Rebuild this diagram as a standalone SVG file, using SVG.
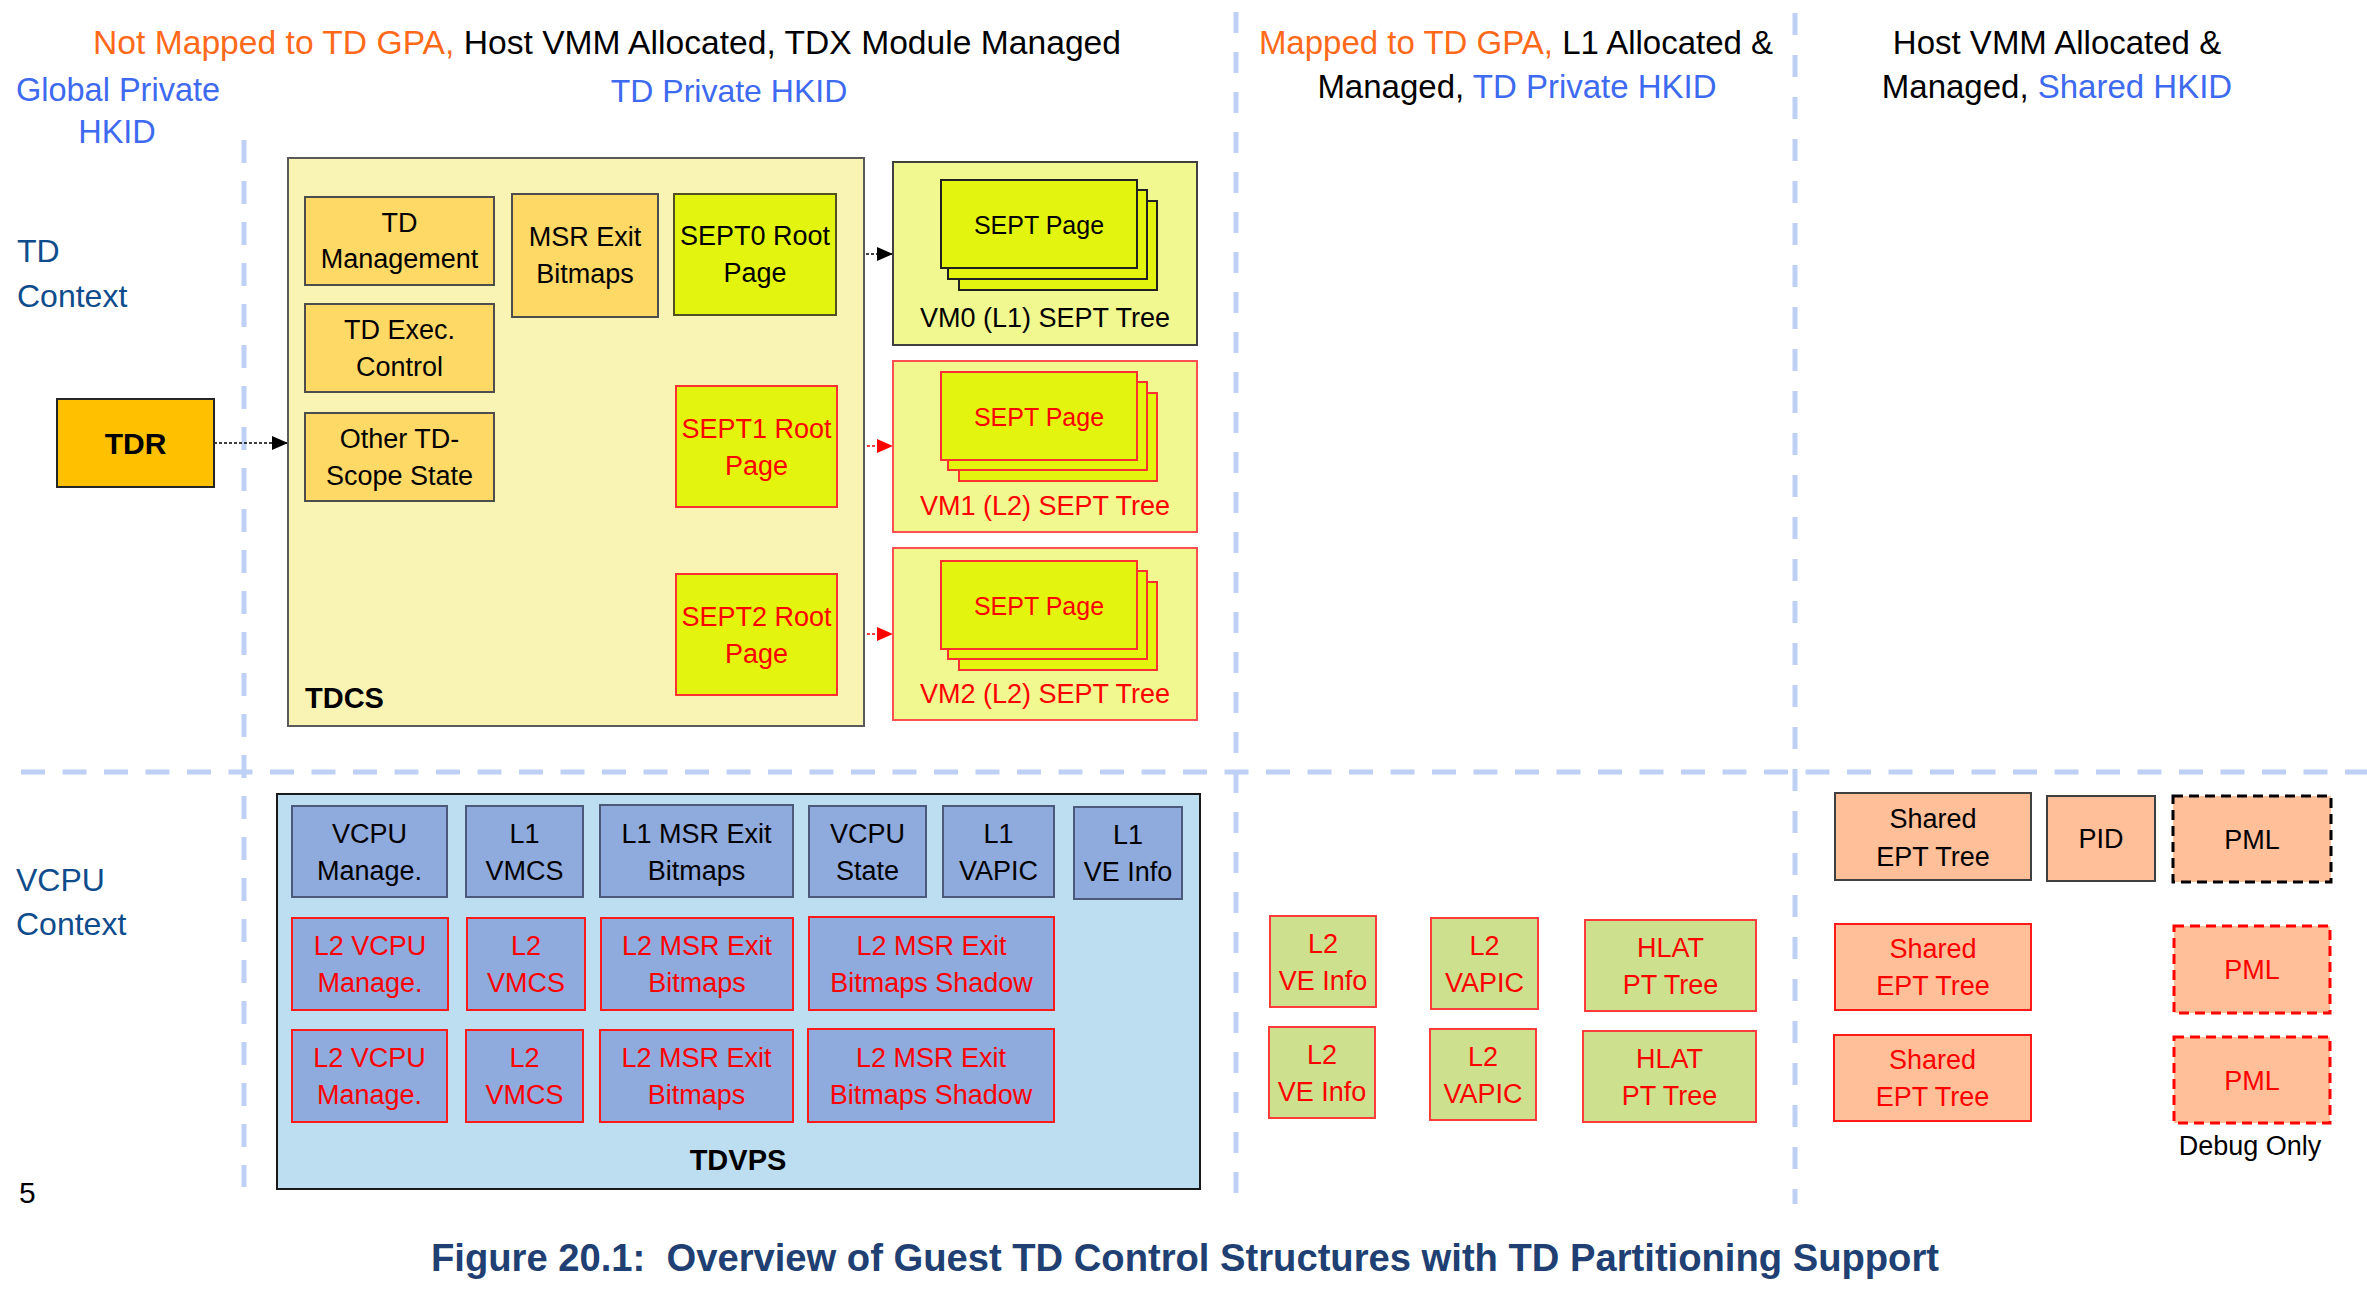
<svg xmlns="http://www.w3.org/2000/svg" width="2367" height="1302" viewBox="0 0 2367 1302">
<defs>
<style>
text{font-family:"Liberation Sans",Arial,sans-serif;}
.hd{font-size:33px;fill:#000;text-anchor:middle}
.or{fill:#FF6A1A}
.bl{fill:#3D6AF0}
.ctx{font-size:32px;fill:#0E4C8C}
.lb{font-size:27px;fill:#000;text-anchor:middle}
.r{fill:#FF0000}
.bold{font-weight:bold;font-size:30px;fill:#000;text-anchor:middle}
.guide{stroke:#BFD0F7;stroke-width:5;fill:none}
.conn{stroke-width:1.6;stroke-dasharray:3 2;fill:none}
.y1{fill:#FFD966;stroke:#4D4D4D;stroke-width:2}
.lime{fill:#E3F50F;stroke:#505020;stroke-width:2}
.limer{fill:#E3F50F;stroke:#FF3030;stroke-width:2}
.tree{fill:#F1F88F;stroke:#404040;stroke-width:2}
.treer{fill:#F1F88F;stroke:#FF5050;stroke-width:2}
.blu{fill:#8FAADC;stroke:#4A5A78;stroke-width:2}
.blur{fill:#8FAADC;stroke:#FF1A1A;stroke-width:2}
.grn{fill:#CCE08E;stroke:#FF3B3B;stroke-width:2}
.pch{fill:#FFBF99;stroke:#404040;stroke-width:2}
.pchr{fill:#FFBF99;stroke:#FF1A1A;stroke-width:2}
.pmlk{fill:#FFBF99;stroke:#000;stroke-width:3;stroke-dasharray:10 6}
.pmlr{fill:#FFBF99;stroke:#FF0000;stroke-width:3;stroke-dasharray:10 6}
</style>
<marker id="ak" markerUnits="userSpaceOnUse" markerWidth="16" markerHeight="14" refX="16" refY="7" orient="auto"><path d="M0,0 L16,7 L0,14 z" fill="#000"/></marker>
<marker id="ar" markerUnits="userSpaceOnUse" markerWidth="16" markerHeight="14" refX="16" refY="7" orient="auto"><path d="M0,0 L16,7 L0,14 z" fill="#FF0000"/></marker>
</defs>
<rect width="2367" height="1302" fill="#fff"/>

<g id="guides">
<line class="guide" x1="21" y1="772" x2="2367" y2="772" stroke-dasharray="24 17.5"/>
<line class="guide" x1="244" y1="140" x2="244" y2="1187" stroke-dasharray="23 18"/>
<line class="guide" x1="1236" y1="12" x2="1236" y2="1204" stroke-dasharray="21 19"/>
<line class="guide" x1="1795" y1="13" x2="1795" y2="1204" stroke-dasharray="22 20"/>
</g>

<g id="headers">
<text x="93" y="54" textLength="1028" lengthAdjust="spacingAndGlyphs" style="font-size:33px;fill:#000"><tspan class="or">Not Mapped to TD GPA,</tspan> Host VMM Allocated, TDX Module Managed</text>
<text class="hd" x="1516" y="54"><tspan class="or">Mapped to TD GPA,</tspan> L1 Allocated &amp;</text>
<text class="hd" x="1517" y="98">Managed, <tspan class="bl">TD Private HKID</tspan></text>
<text class="hd" x="2057" y="54">Host VMM Allocated &amp;</text>
<text class="hd" x="2057" y="98">Managed, <tspan class="bl">Shared HKID</tspan></text>
<text class="hd bl" x="118" y="101" style="font-size:32.5px">Global Private</text>
<text class="hd bl" x="117" y="143" style="font-size:32.5px">HKID</text>
<text class="hd bl" x="729" y="102" style="font-size:32px">TD Private HKID</text>
<text class="ctx" x="17" y="262">TD</text>
<text class="ctx" x="17" y="307">Context</text>
<text class="ctx" x="16" y="891">VCPU</text>
<text class="ctx" x="16" y="935">Context</text>
<text x="19" y="1203" style="font-size:30px;fill:#000">5</text>
<text x="431" y="1271" textLength="1508" lengthAdjust="spacingAndGlyphs" style="font-size:38px;font-weight:bold;fill:#203F72;white-space:pre">Figure 20.1:  Overview of Guest TD Control Structures with TD Partitioning Support</text>
</g>

<g id="connectors">
<path class="conn" d="M214,443 H288" stroke="#000" marker-end="url(#ak)"/>
<path class="conn" d="M836,254 H893" stroke="#000" marker-end="url(#ak)"/>
<path class="conn" d="M837,446 H893" stroke="#FF0000" marker-end="url(#ar)"/>
<path class="conn" d="M837,634 H893" stroke="#FF0000" marker-end="url(#ar)"/>
</g>

<g id="tdr"><rect x="57" y="399" width="157" height="88" fill="#FFC000" stroke="#262626" stroke-width="2"/><text class="bold" x="135.5" y="454">TDR</text></g>

<g id="tdcs"><rect x="288" y="158" width="576" height="568" fill="#FAF4B4" stroke="#5A5A5A" stroke-width="2"/><text x="305" y="708" style="font-weight:bold;font-size:29px;fill:#000">TDCS</text></g>

<g id="td-management"><rect class="y1" x="305" y="197" width="189" height="88"/><text class="lb" x="399.5" y="232"><tspan x="399.5">TD</tspan><tspan x="399.5" y="268">Management</tspan></text></g>
<g id="td-exec-control"><rect class="y1" x="305" y="304" width="189" height="88"/><text class="lb" x="399.5" y="339"><tspan x="399.5">TD Exec.</tspan><tspan x="399.5" y="376">Control</tspan></text></g>
<g id="other-td-scope-state"><rect class="y1" x="305" y="413" width="189" height="88"/><text class="lb" x="399.5" y="448"><tspan x="399.5">Other TD-</tspan><tspan x="399.5" y="485">Scope State</tspan></text></g>
<g id="msr-exit-bitmaps"><rect class="y1" x="512" y="194" width="146" height="123"/><text class="lb" x="585" y="246"><tspan x="585">MSR Exit</tspan><tspan x="585" y="283">Bitmaps</tspan></text></g>

<g id="sept0-root"><rect class="lime" x="674" y="194" width="162" height="121"/><text class="lb" x="755" y="245"><tspan x="755">SEPT0 Root</tspan><tspan x="755" y="282">Page</tspan></text></g>
<g id="sept1-root"><rect class="limer" x="676" y="386" width="161" height="121"/><text class="lb r" x="756.5" y="438"><tspan x="756.5">SEPT1 Root</tspan><tspan x="756.5" y="475">Page</tspan></text></g>
<g id="sept2-root"><rect class="limer" x="676" y="574" width="161" height="121"/><text class="lb r" x="756.5" y="626"><tspan x="756.5">SEPT2 Root</tspan><tspan x="756.5" y="663">Page</tspan></text></g>

<g id="vm0-sept-tree">
<rect class="tree" x="893" y="162" width="304" height="183"/>
<rect class="lime" x="959" y="201" width="198" height="89" style="stroke:#202020"/>
<rect class="lime" x="948" y="190" width="199" height="89" style="stroke:#202020"/>
<rect class="lime" x="941" y="180" width="196" height="88" style="stroke:#202020"/>
<text class="lb" x="1039" y="234" style="font-size:25px">SEPT Page</text>
<text class="lb" x="1045" y="327">VM0 (L1) SEPT Tree</text>
</g>
<g id="vm1-sept-tree">
<rect class="treer" x="893" y="361" width="304" height="171"/>
<rect class="limer" x="959" y="393" width="198" height="88"/>
<rect class="limer" x="948" y="382" width="199" height="88"/>
<rect class="limer" x="941" y="372" width="196" height="88"/>
<text class="lb r" x="1039" y="426" style="font-size:25px">SEPT Page</text>
<text class="lb r" x="1045" y="515">VM1 (L2) SEPT Tree</text>
</g>
<g id="vm2-sept-tree">
<rect class="treer" x="893" y="548" width="304" height="172"/>
<rect class="limer" x="959" y="582" width="198" height="88"/>
<rect class="limer" x="948" y="571" width="199" height="88"/>
<rect class="limer" x="941" y="561" width="196" height="88"/>
<text class="lb r" x="1039" y="615" style="font-size:25px">SEPT Page</text>
<text class="lb r" x="1045" y="703">VM2 (L2) SEPT Tree</text>
</g>

<g id="tdvps"><rect x="277" y="794" width="923" height="395" fill="#BDDEF0" stroke="#1A1A1A" stroke-width="2"/><text class="bold" x="738" y="1170" style="font-size:29px">TDVPS</text></g>

<g id="vcpu-manage"><rect class="blu" x="292" y="806" width="155" height="91"/><text class="lb" x="369.5" y="843"><tspan x="369.5">VCPU</tspan><tspan x="369.5" y="880">Manage.</tspan></text></g>
<g id="l1-vmcs"><rect class="blu" x="466" y="806" width="117" height="91"/><text class="lb" x="524.5" y="843"><tspan x="524.5">L1</tspan><tspan x="524.5" y="880">VMCS</tspan></text></g>
<g id="l1-msr-exit-bitmaps"><rect class="blu" x="600" y="805" width="193" height="92"/><text class="lb" x="696.5" y="843"><tspan x="696.5">L1 MSR Exit</tspan><tspan x="696.5" y="880">Bitmaps</tspan></text></g>
<g id="vcpu-state"><rect class="blu" x="809" y="806" width="117" height="91"/><text class="lb" x="867.5" y="843"><tspan x="867.5">VCPU</tspan><tspan x="867.5" y="880">State</tspan></text></g>
<g id="l1-vapic"><rect class="blu" x="943" y="806" width="111" height="91"/><text class="lb" x="998.5" y="843"><tspan x="998.5">L1</tspan><tspan x="998.5" y="880">VAPIC</tspan></text></g>
<g id="l1-ve-info"><rect class="blu" x="1074" y="807" width="108" height="92"/><text class="lb" x="1128" y="844"><tspan x="1128">L1</tspan><tspan x="1128" y="881">VE Info</tspan></text></g>

<g id="l2-vcpu-manage-1"><rect class="blur" x="292" y="918" width="156" height="92"/><text class="lb r" x="370" y="955"><tspan x="370">L2 VCPU</tspan><tspan x="370" y="992">Manage.</tspan></text></g>
<g id="l2-vmcs-1"><rect class="blur" x="467" y="918" width="118" height="92"/><text class="lb r" x="526" y="955"><tspan x="526">L2</tspan><tspan x="526" y="992">VMCS</tspan></text></g>
<g id="l2-msr-exit-bitmaps-1"><rect class="blur" x="601" y="918" width="192" height="92"/><text class="lb r" x="697" y="955"><tspan x="697">L2 MSR Exit</tspan><tspan x="697" y="992">Bitmaps</tspan></text></g>
<g id="l2-msr-exit-bitmaps-shadow-1"><rect class="blur" x="809" y="917" width="245" height="93"/><text class="lb r" x="931.5" y="955"><tspan x="931.5">L2 MSR Exit</tspan><tspan x="931.5" y="992">Bitmaps Shadow</tspan></text></g>

<g id="l2-vcpu-manage-2"><rect class="blur" x="292" y="1030" width="155" height="92"/><text class="lb r" x="369.5" y="1067"><tspan x="369.5">L2 VCPU</tspan><tspan x="369.5" y="1104">Manage.</tspan></text></g>
<g id="l2-vmcs-2"><rect class="blur" x="466" y="1030" width="117" height="92"/><text class="lb r" x="524.5" y="1067"><tspan x="524.5">L2</tspan><tspan x="524.5" y="1104">VMCS</tspan></text></g>
<g id="l2-msr-exit-bitmaps-2"><rect class="blur" x="600" y="1030" width="193" height="92"/><text class="lb r" x="696.5" y="1067"><tspan x="696.5">L2 MSR Exit</tspan><tspan x="696.5" y="1104">Bitmaps</tspan></text></g>
<g id="l2-msr-exit-bitmaps-shadow-2"><rect class="blur" x="808" y="1029" width="246" height="93"/><text class="lb r" x="931" y="1067"><tspan x="931">L2 MSR Exit</tspan><tspan x="931" y="1104">Bitmaps Shadow</tspan></text></g>

<g id="l2-ve-info-1"><rect class="grn" x="1270" y="916" width="106" height="91"/><text class="lb r" x="1323" y="953"><tspan x="1323">L2</tspan><tspan x="1323" y="990">VE Info</tspan></text></g>
<g id="l2-vapic-1"><rect class="grn" x="1431" y="918" width="107" height="91"/><text class="lb r" x="1484.5" y="955"><tspan x="1484.5">L2</tspan><tspan x="1484.5" y="992">VAPIC</tspan></text></g>
<g id="hlat-pt-tree-1"><rect class="grn" x="1585" y="920" width="171" height="91"/><text class="lb r" x="1670.5" y="957"><tspan x="1670.5">HLAT</tspan><tspan x="1670.5" y="994">PT Tree</tspan></text></g>
<g id="l2-ve-info-2"><rect class="grn" x="1269" y="1027" width="106" height="91"/><text class="lb r" x="1322" y="1064"><tspan x="1322">L2</tspan><tspan x="1322" y="1101">VE Info</tspan></text></g>
<g id="l2-vapic-2"><rect class="grn" x="1430" y="1029" width="106" height="91"/><text class="lb r" x="1483" y="1066"><tspan x="1483">L2</tspan><tspan x="1483" y="1103">VAPIC</tspan></text></g>
<g id="hlat-pt-tree-2"><rect class="grn" x="1583" y="1031" width="173" height="91"/><text class="lb r" x="1669.5" y="1068"><tspan x="1669.5">HLAT</tspan><tspan x="1669.5" y="1105">PT Tree</tspan></text></g>

<g id="shared-ept-tree-0"><rect class="pch" x="1835" y="793" width="196" height="87"/><text class="lb" x="1933" y="828"><tspan x="1933">Shared</tspan><tspan x="1933" y="866">EPT Tree</tspan></text></g>
<g id="pid"><rect class="pch" x="2047" y="796" width="108" height="85"/><text class="lb" x="2101" y="848">PID</text></g>
<g id="pml-0"><rect class="pmlk" x="2173" y="796" width="158" height="86"/><text class="lb" x="2252" y="849">PML</text></g>
<g id="shared-ept-tree-1"><rect class="pchr" x="1835" y="924" width="196" height="86"/><text class="lb r" x="1933" y="958"><tspan x="1933">Shared</tspan><tspan x="1933" y="995">EPT Tree</tspan></text></g>
<g id="pml-1"><rect class="pmlr" x="2174" y="926" width="156" height="87"/><text class="lb r" x="2252" y="979">PML</text></g>
<g id="shared-ept-tree-2"><rect class="pchr" x="1834" y="1035" width="197" height="86"/><text class="lb r" x="1932.5" y="1069"><tspan x="1932.5">Shared</tspan><tspan x="1932.5" y="1106">EPT Tree</tspan></text></g>
<g id="pml-2"><rect class="pmlr" x="2174" y="1037" width="156" height="86"/><text class="lb r" x="2252" y="1090">PML</text></g>
<text class="lb" x="2250" y="1155">Debug Only</text>
</svg>
